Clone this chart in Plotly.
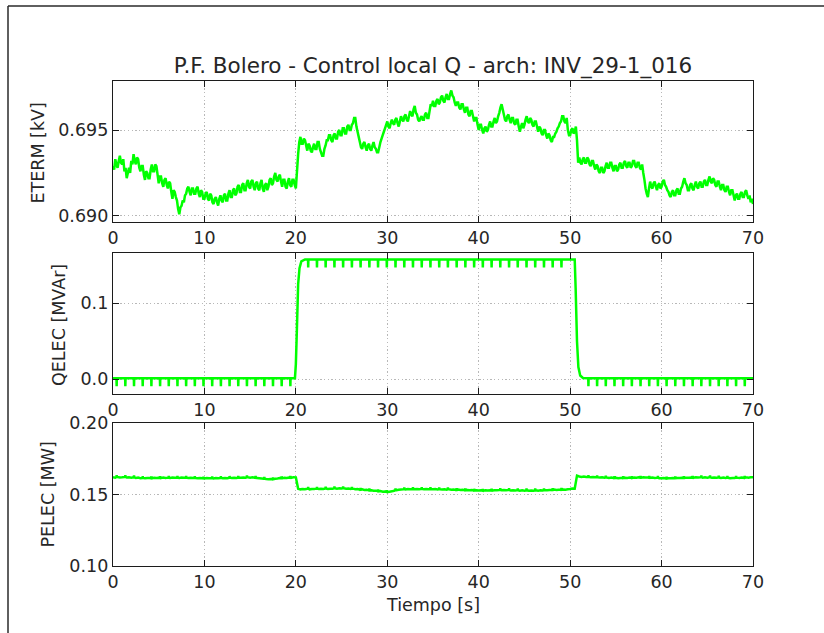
import numpy as np
import plotly.graph_objects as go

# ---------------------------------------------------------------------------
# Terminal voltage, sampled every 0.125 s from 0 to 70 s (values in volts,
# one row per second)
# ---------------------------------------------------------------------------
eterm_v = [
    692.9, 692.7, 693.3, 693.0, 692.8, 693.2, 693.5, 693.1,
    693.0, 693.3, 692.6, 692.8, 692.2, 692.5, 692.8, 692.5,
    693.2, 693.0, 693.6, 693.2, 693.0, 693.4, 693.3, 692.8,
    692.6, 692.9, 692.9, 692.4, 692.1, 692.6, 692.5, 692.2,
    692.2, 692.7, 693.0, 692.6, 692.6, 693.0, 692.9, 692.4,
    691.9, 692.3, 692.3, 691.9, 691.7, 692.1, 692.2, 691.8,
    691.6, 692.0, 691.9, 691.4, 691.0, 691.5, 691.4, 691.1,
    690.9, 690.4, 690.1, 690.5, 690.6, 690.9, 690.8, 691.2,
    691.3, 691.6, 691.7, 691.4, 691.2, 691.6, 691.6, 691.3,
    691.3, 691.6, 691.7, 691.3, 691.1, 691.5, 691.4, 691.0,
    691.0, 691.3, 691.4, 691.0, 690.9, 691.3, 691.2, 690.8,
    690.7, 691.0, 691.1, 690.8, 690.6, 691.0, 691.2, 690.9,
    690.8, 691.2, 691.3, 690.9, 690.9, 691.3, 691.5, 691.1,
    691.1, 691.5, 691.6, 691.2, 691.3, 691.7, 691.8, 691.4,
    691.4, 691.8, 691.9, 691.5, 691.5, 691.9, 692.1, 691.7,
    691.6, 692.0, 692.1, 691.7, 691.5, 691.9, 692.0, 691.6,
    691.5, 691.9, 692.1, 691.6, 691.4, 691.8, 691.9, 691.5,
    691.7, 692.1, 692.2, 691.8, 691.9, 692.3, 692.5, 692.1,
    692.0, 692.3, 692.4, 692.0, 691.7, 692.1, 692.1, 691.7,
    691.6, 692.0, 692.2, 691.8, 691.7, 692.1, 692.1, 691.8,
    691.6, 692.6, 693.6, 694.3, 694.6, 694.2, 694.2, 694.5,
    694.4, 694.1, 693.8, 694.2, 694.1, 693.8, 693.7, 694.0,
    694.2, 693.9, 693.9, 694.3, 694.3, 693.9, 693.7, 693.5,
    693.5, 693.9, 694.1, 694.4, 694.4, 694.7, 694.7, 694.4,
    694.3, 694.7, 694.8, 694.5, 694.5, 694.9, 695.0, 694.7,
    694.7, 695.1, 695.1, 694.8, 694.8, 695.2, 695.3, 695.0,
    695.0, 695.3, 695.4, 695.7, 695.7, 695.2, 694.9, 694.6,
    694.3, 694.0, 693.9, 694.2, 694.3, 694.0, 693.8, 694.1,
    694.2, 693.9, 693.8, 694.1, 694.3, 694.0, 693.9, 693.7,
    693.7, 694.0, 694.3, 694.5, 694.7, 694.9, 695.1, 695.3,
    695.5, 695.2, 695.1, 695.4, 695.6, 695.4, 695.3, 695.6,
    695.7, 695.4, 695.2, 695.5, 695.8, 695.6, 695.5, 695.8,
    695.9, 695.6, 695.5, 695.8, 696.1, 695.9, 695.8, 696.2,
    696.4, 696.0, 695.9, 695.6, 695.5, 695.7, 695.8, 695.6,
    695.6, 695.9, 696.0, 695.7, 695.7, 696.1, 696.5, 696.4,
    696.7, 696.4, 696.4, 696.7, 696.8, 696.5, 696.6, 696.9,
    697.0, 696.7, 696.6, 696.9, 697.1, 696.8, 696.8, 697.1,
    697.3, 697.0, 696.9, 696.6, 696.4, 696.6, 696.6, 696.3,
    696.2, 696.5, 696.5, 696.2, 696.0, 696.3, 696.3, 695.9,
    695.8, 696.1, 696.1, 695.8, 695.5, 695.7, 695.7, 695.3,
    695.0, 695.3, 695.3, 695.0, 694.8, 695.1, 695.2, 694.9,
    695.0, 695.3, 695.5, 695.2, 695.2, 695.5, 695.7, 695.4,
    695.5, 695.8, 696.0, 696.3, 696.5, 696.2, 695.9, 695.6,
    695.5, 695.8, 695.9, 695.6, 695.4, 695.7, 695.7, 695.4,
    695.3, 695.6, 695.6, 695.2, 694.9, 695.2, 695.4, 695.1,
    695.3, 695.6, 695.8, 695.5, 695.4, 695.7, 695.6, 695.3,
    695.2, 695.5, 695.5, 695.2, 694.9, 695.2, 695.1, 694.8,
    694.7, 695.0, 695.0, 694.7, 694.5, 694.8, 694.7, 694.4,
    694.3, 694.6, 694.6, 694.8, 694.9, 695.1, 695.2, 695.4,
    695.5, 695.8, 695.8, 695.5, 695.4, 695.7, 695.0, 694.7,
    694.7, 695.0, 695.1, 694.8, 694.9, 695.2, 694.4, 693.1,
    693.4, 693.1, 693.0, 693.3, 693.4, 693.1, 693.1, 693.4,
    693.3, 693.0, 692.9, 693.2, 693.2, 692.9, 692.7, 693.0,
    692.9, 692.6, 692.5, 692.8, 692.8, 692.5, 692.6, 692.9,
    693.1, 692.8, 692.8, 693.1, 693.1, 692.8, 692.6, 692.9,
    692.9, 692.6, 692.7, 693.0, 693.1, 692.8, 692.8, 693.1,
    693.2, 692.9, 692.8, 693.1, 693.1, 692.8, 692.9, 693.2,
    693.2, 692.9, 692.8, 693.1, 693.1, 692.8, 692.7, 693.0,
    692.5, 692.1, 691.6, 691.3, 691.1, 691.6, 692.0, 691.7,
    691.6, 691.9, 692.0, 691.7, 691.5, 691.8, 691.9, 691.6,
    691.7, 692.0, 692.1, 691.8, 691.7, 691.5, 691.4, 691.2,
    691.1, 691.4, 691.5, 691.2, 691.2, 691.5, 691.6, 691.3,
    691.3, 691.6, 691.7, 692.0, 692.2, 691.9, 691.8, 691.5,
    691.5, 691.8, 691.9, 691.6, 691.5, 691.8, 692.0, 691.7,
    691.6, 691.9, 692.0, 691.7, 691.7, 692.0, 692.1, 691.8,
    691.8, 692.1, 692.3, 692.0, 691.9, 692.2, 692.1, 691.8,
    691.7, 692.0, 692.0, 691.7, 691.5, 691.8, 691.8, 691.5,
    691.4, 691.7, 691.7, 691.4, 691.2, 691.5, 691.5, 691.2,
    690.9, 691.2, 691.3, 691.0, 691.0, 691.3, 691.4, 691.1,
    691.1, 691.4, 691.5, 691.2, 691.0, 691.2, 690.8, 691.0,
    690.7,
]
assert len(eterm_v) == 561
t_eterm = np.linspace(0.0, 70.0, len(eterm_v))
eterm_kv = np.array(eterm_v) / 1000.0

# ---------------------------------------------------------------------------
# Active power [MW], sampled every 0.25 s (one row per second)
# ---------------------------------------------------------------------------
pelec_mw = [
    0.1621, 0.1618, 0.1622, 0.1619,
    0.1620, 0.1623, 0.1619, 0.1621,
    0.1618, 0.1620, 0.1616, 0.1618,
    0.1614, 0.1616, 0.1613, 0.1615,
    0.1616, 0.1614, 0.1617, 0.1615,
    0.1617, 0.1615, 0.1618, 0.1616,
    0.1618, 0.1616, 0.1619, 0.1617,
    0.1618, 0.1616, 0.1619, 0.1617,
    0.1618, 0.1615, 0.1617, 0.1615,
    0.1616, 0.1614, 0.1616, 0.1613,
    0.1612, 0.1615, 0.1613, 0.1614,
    0.1612, 0.1615, 0.1613, 0.1616,
    0.1614, 0.1616, 0.1614, 0.1617,
    0.1615, 0.1617, 0.1616, 0.1618,
    0.1617, 0.1619, 0.1617, 0.1620,
    0.1618, 0.1620, 0.1617, 0.1616,
    0.1614, 0.1612, 0.1610, 0.1608,
    0.1606, 0.1608, 0.1607, 0.1610,
    0.1612, 0.1615, 0.1614, 0.1617,
    0.1616, 0.1619, 0.1617, 0.1621,
    0.1620, 0.1540, 0.1536, 0.1539,
    0.1537, 0.1540, 0.1536, 0.1539,
    0.1538, 0.1541, 0.1538, 0.1540,
    0.1539, 0.1542, 0.1539, 0.1541,
    0.1540, 0.1543, 0.1541, 0.1543,
    0.1542, 0.1544, 0.1541, 0.1542,
    0.1539, 0.1541, 0.1537, 0.1538,
    0.1534, 0.1536, 0.1532, 0.1533,
    0.1529, 0.1530, 0.1526, 0.1527,
    0.1523, 0.1524, 0.1520, 0.1521,
    0.1518, 0.1520, 0.1522, 0.1526,
    0.1530, 0.1533, 0.1535, 0.1537,
    0.1535, 0.1538, 0.1536, 0.1538,
    0.1536, 0.1539, 0.1537, 0.1539,
    0.1537, 0.1539, 0.1536, 0.1538,
    0.1536, 0.1538, 0.1535, 0.1537,
    0.1535, 0.1537, 0.1534, 0.1536,
    0.1533, 0.1535, 0.1532, 0.1534,
    0.1531, 0.1533, 0.1530, 0.1532,
    0.1529, 0.1531, 0.1528, 0.1530,
    0.1528, 0.1530, 0.1527, 0.1529,
    0.1528, 0.1530, 0.1528, 0.1530,
    0.1529, 0.1531, 0.1529, 0.1531,
    0.1529, 0.1531, 0.1528, 0.1530,
    0.1528, 0.1530, 0.1527, 0.1529,
    0.1527, 0.1529, 0.1526, 0.1528,
    0.1527, 0.1529, 0.1527, 0.1529,
    0.1528, 0.1530, 0.1529, 0.1531,
    0.1532, 0.1534, 0.1531, 0.1533,
    0.1533, 0.1535, 0.1533, 0.1536,
    0.1538, 0.1542, 0.1541, 0.1632,
    0.1626, 0.1623, 0.1625, 0.1622,
    0.1623, 0.1621, 0.1623, 0.1620,
    0.1621, 0.1619, 0.1621, 0.1618,
    0.1619, 0.1616, 0.1618, 0.1615,
    0.1617, 0.1614, 0.1616, 0.1615,
    0.1617, 0.1615, 0.1618, 0.1616,
    0.1619, 0.1617, 0.1620, 0.1618,
    0.1621, 0.1619, 0.1621, 0.1618,
    0.1619, 0.1616, 0.1617, 0.1614,
    0.1613, 0.1615, 0.1612, 0.1614,
    0.1614, 0.1616, 0.1614, 0.1616,
    0.1615, 0.1617, 0.1616, 0.1618,
    0.1617, 0.1619, 0.1617, 0.1620,
    0.1619, 0.1621, 0.1618, 0.1620,
    0.1618, 0.1620, 0.1617, 0.1619,
    0.1617, 0.1619, 0.1616, 0.1618,
    0.1615, 0.1617, 0.1614, 0.1616,
    0.1615, 0.1618, 0.1616, 0.1619,
    0.1617, 0.1620, 0.1618, 0.1621,
    0.1620,
]
assert len(pelec_mw) == 281
t_pelec = np.linspace(0.0, 70.0, len(pelec_mw))

# Reactive power [MVAr]: steady levels, set-point transitions and the
# short periodic dips seen on the inverter measurement
q_low_mvar = 0.0015
q_high_mvar = 0.1575
q_dip_mvar = 0.0105
q_rise_t = [19.9, 20.0, 20.1, 20.25, 20.4, 20.6, 21.0]
q_rise_mvar = [0.0015, 0.020, 0.060, 0.125, 0.146, 0.155, 0.1575]
q_fall_t = [50.5, 50.6, 50.75, 50.9, 51.1, 51.4]
q_fall_mvar = [0.1575, 0.120, 0.050, 0.016, 0.005, 0.0018]

q_dip_low1_t = [0.4, 1.35, 2.3, 3.25, 4.2, 5.15, 6.1, 7.05, 8.0, 8.95, 9.9,
                10.85, 11.8, 12.75, 13.7, 14.65, 15.6, 16.55, 17.5, 18.45, 19.4]
q_dip_high_t = [21.35, 22.31, 23.26, 24.22, 25.17, 26.13, 27.08, 28.04, 28.99,
                29.95, 30.9, 31.86, 32.81, 33.77, 34.72, 35.68, 36.63, 37.59,
                38.54, 39.5, 40.45, 41.41, 42.36, 43.32, 44.27, 45.23, 46.18,
                47.14, 48.09, 49.05]
q_dip_low2_t = [52.0, 52.95, 53.9, 54.85, 55.8, 56.75, 57.7, 58.65, 59.6, 60.55,
                61.5, 62.45, 63.4, 64.35, 65.3, 66.25, 67.2, 68.15, 69.1]

# Small upward blips on the active power at the same instants
p_bump_mw = 0.0013

x_tick_vals = [0, 10, 20, 30, 40, 50, 60, 70]

# ---------------------------------------------------------------------------
# Assemble the reactive-power trace
# ---------------------------------------------------------------------------
q_t, q_v = [0.0], [q_low_mvar]


def add_dips(times, level):
    for ts in times:
        q_t.extend([ts - 0.02, ts, ts + 0.02])
        q_v.extend([level, level - q_dip_mvar, level])


add_dips(q_dip_low1_t, q_low_mvar)
q_t.extend(q_rise_t)
q_v.extend(q_rise_mvar)
add_dips(q_dip_high_t, q_high_mvar)
q_t.extend(q_fall_t)
q_v.extend(q_fall_mvar)
add_dips(q_dip_low2_t, q_low_mvar)
q_t.append(70.0)
q_v.append(q_low_mvar)

# ---------------------------------------------------------------------------
# Active-power trace with blips added at the dip instants
# ---------------------------------------------------------------------------
p_pts = list(zip(t_pelec.tolist(), pelec_mw))
for ts in q_dip_low1_t + q_dip_high_t + q_dip_low2_t:
    base = pelec_mw[int(round(ts / 0.25))]
    p_pts += [(ts - 0.02, base), (ts, base + p_bump_mw), (ts + 0.02, base)]
p_pts.sort(key=lambda p: p[0])
p_t = [p[0] for p in p_pts]
p_v = [p[1] for p in p_pts]

# ---------------------------------------------------------------------------
# Figure
# ---------------------------------------------------------------------------
W, H = 824, 633
ML, MR, MT, MB = 113, 71, 81, 67
PW, PH = W - ML - MR, H - MT - MB


def py(px):
    """pixel row -> paper y"""
    return (H - MB - px) / PH


def pxx(px):
    """pixel column -> paper x"""
    return (px - ML) / PW


GREEN = "#00ff00"
INK = "#1c1c1c"
FONT = "DejaVu Sans"
TXT = "#262626"

fig = go.Figure()
fig.add_trace(go.Scatter(x=t_eterm, y=eterm_kv, mode="lines",
                         line=dict(color=GREEN, width=2.5, simplify=False),
                         xaxis="x", yaxis="y", showlegend=False))
fig.add_trace(go.Scatter(x=q_t, y=q_v, mode="lines",
                         line=dict(color=GREEN, width=2.5, simplify=False),
                         xaxis="x2", yaxis="y2", showlegend=False))
fig.add_trace(go.Scatter(x=p_t, y=p_v, mode="lines",
                         line=dict(color=GREEN, width=2.5, simplify=False),
                         xaxis="x3", yaxis="y3", showlegend=False))

axis_common = dict(
    showline=True, linecolor=INK, linewidth=1.4, mirror="allticks",
    ticks="inside", ticklen=6, tickwidth=1.3, tickcolor=INK,
    showgrid=True, gridcolor="#b8b8b8", griddash="1.3px,2.4px", gridwidth=1.3,
    zeroline=False, tickfont=dict(family=FONT, size=17.5, color=TXT),
)

x_common = dict(axis_common, range=[0, 70], tickvals=x_tick_vals,
                ticktext=[str(v) for v in x_tick_vals], domain=[0, 1])

dom1 = [py(222), py(81)]
dom2 = [py(394), py(253)]
dom3 = [py(566), py(423)]

fig.update_layout(
    width=W, height=H,
    margin=dict(l=ML, r=MR, t=MT, b=MB, pad=0),
    paper_bgcolor="white", plot_bgcolor="white",
    font=dict(family=FONT, color=TXT),
    title=dict(text="P.F. Bolero - Control local Q - arch: INV_29-1_016",
               font=dict(family=FONT, size=21.5, color=TXT),
               x=0.5, xref="paper", xanchor="center",
               y=1 - 65 / H, yref="container", yanchor="middle"),
    xaxis=dict(x_common, anchor="y"),
    xaxis2=dict(x_common, anchor="y2"),
    xaxis3=dict(x_common, anchor="y3"),
    yaxis=dict(axis_common, domain=dom1, anchor="x",
               range=[0.68965, 0.69785], tickvals=[0.690, 0.695],
               tickformat=".3f"),
    yaxis2=dict(axis_common, domain=dom2, anchor="x2",
                range=[-0.0193, 0.166], tickvals=[0.0, 0.1],
                tickformat=".1f"),
    yaxis3=dict(axis_common, domain=dom3, anchor="x3",
                range=[0.10, 0.20], tickvals=[0.10, 0.15, 0.20],
                tickformat=".2f"),
)

label_font = dict(family=FONT, size=17.5, color=TXT)
fig.add_annotation(text="ETERM [kV]", textangle=-90, xref="paper", yref="paper",
                   x=pxx(37.5), y=py(153), xanchor="center", yanchor="middle",
                   showarrow=False, font=label_font)
fig.add_annotation(text="QELEC [MVAr]", textangle=-90, xref="paper", yref="paper",
                   x=pxx(59), y=py(325), xanchor="center", yanchor="middle",
                   showarrow=False, font=label_font)
fig.add_annotation(text="PELEC [MW]", textangle=-90, xref="paper", yref="paper",
                   x=pxx(47.5), y=py(495), xanchor="center", yanchor="middle",
                   showarrow=False, font=label_font)
fig.add_annotation(text="Tiempo [s]", xref="paper", yref="paper",
                   x=0.5, y=py(605), xanchor="center", yanchor="middle",
                   showarrow=False, font=label_font)

# Outer figure frame (left and top edges)
frame = dict(color="#2a2a2a", width=1.5)
fig.add_shape(type="line", xref="paper", yref="paper",
              x0=pxx(8), x1=pxx(8), y0=py(6), y1=py(H + 10), line=frame)
fig.add_shape(type="line", xref="paper", yref="paper",
              x0=pxx(8), x1=pxx(W + 10), y0=py(6), y1=py(6), line=frame)

fig.write_html("out.html")
